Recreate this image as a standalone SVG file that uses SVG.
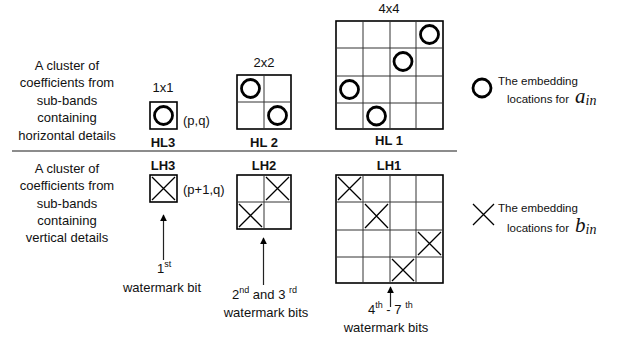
<svg xmlns="http://www.w3.org/2000/svg" width="623" height="340" viewBox="0 0 623 340">
<defs>
<style>
text{font-family:"Liberation Sans",Arial,sans-serif;font-size:13px;fill:#111}
.c{text-anchor:middle}
.b{font-weight:bold}
.lg{font-size:11.5px}
.sup{font-size:9px}
.m{font-family:"Liberation Serif","Times New Roman",serif;font-style:italic;font-size:21px}
.sub{font-size:14px}
.outer{fill:none;stroke:#000;stroke-width:1.6}
.inner{fill:none;stroke:#333;stroke-width:1}
.ring{fill:none;stroke:#000;stroke-width:2.8}
.x{stroke:#000;stroke-width:1.3;fill:none}
.conn{stroke:#222;stroke-width:1.2;fill:none}
</style>
<marker id="ah" viewBox="0 0 10 10" refX="9" refY="5" markerWidth="7" markerHeight="7" markerUnits="userSpaceOnUse" orient="auto"><path d="M0,0 L10,5 L0,10 z" fill="#000"/></marker>
</defs>
<rect width="623" height="340" fill="#fff"/>

<g id="labels-left">
<text class="c" x="67" y="69.5">A cluster of</text>
<text class="c" x="67" y="87">coefficients from</text>
<text class="c" x="67" y="104.5">sub-bands</text>
<text class="c" x="67" y="122">containing</text>
<text class="c" x="67" y="139.5">horizontal details</text>
<text class="c" x="67" y="172.5">A cluster of</text>
<text class="c" x="67" y="190">coefficients from</text>
<text class="c" x="67" y="207.5">sub-bands</text>
<text class="c" x="67" y="225">containing</text>
<text class="c" x="67" y="242">vertical details</text>
</g>

<line x1="12" y1="151" x2="457" y2="151" stroke="#666" stroke-width="1.5"/>

<g id="HL3">
<text class="c" x="163" y="91.5">1x1</text>
<rect class="outer" x="150" y="102" width="27" height="27"/>
<circle class="ring" cx="163.5" cy="115.5" r="9"/>
<text x="183" y="124.5">(p,q)</text>
<text class="c b" x="163" y="146.5">HL3</text>
</g>

<g id="HL2">
<text class="c" x="264" y="66.5">2x2</text>
<rect class="outer" x="237" y="75" width="54" height="54"/>
<path class="inner" d="M264,75V129M237,102H291"/>
<circle class="ring" cx="250.5" cy="88.5" r="9"/>
<circle class="ring" cx="277.5" cy="115.5" r="9"/>
<text class="c b" x="264" y="146.5">HL 2</text>
</g>

<g id="HL1">
<text class="c" x="389" y="12.5">4x4</text>
<rect class="outer" x="336" y="21" width="107" height="108"/>
<path class="inner" d="M363,21V129M390,21V129M416,21V129M336,48H443M336,76H443M336,103H443"/>
<circle class="ring" cx="429.5" cy="34.5" r="9"/>
<circle class="ring" cx="403" cy="61.5" r="9"/>
<circle class="ring" cx="349.5" cy="89.5" r="9"/>
<circle class="ring" cx="376.5" cy="116" r="9"/>
<text class="c b" x="389" y="144.5">HL 1</text>
</g>

<g id="legend-a">
<circle class="ring" cx="482" cy="88" r="9"/>
<text class="lg" x="498" y="84.5">The embedding</text>
<text class="lg" x="507" y="102.5">locations for</text>
<text class="m" x="575" y="103">a<tspan class="sub" dy="2">in</tspan></text>
</g>

<g id="LH3">
<text class="c b" x="163" y="169.5">LH3</text>
<rect class="outer" x="150" y="175" width="27" height="27"/>
<path class="x" d="M152,177L175,200M175,177L152,200"/>
<text x="183" y="193.5">(p+1,q)</text>
</g>

<g id="LH2">
<text class="c b" x="264" y="169.5">LH2</text>
<rect class="outer" x="237" y="175" width="54" height="54"/>
<path class="inner" d="M264,175V229M237,202H291"/>
<path class="x" d="M266,177L289,200M289,177L266,200M239,204L262,227M262,204L239,227"/>
</g>

<g id="LH1">
<text class="c b" x="389" y="169.5">LH1</text>
<rect class="outer" x="336" y="175" width="107" height="108"/>
<path class="inner" d="M363,175V283M390,175V283M416,175V283M336,202H443M336,230H443M336,257H443"/>
<path class="x" d="M338,177L361,200M361,177L338,200M365,204L388,228M388,204L365,228M418,232L441,255M441,232L418,255M392,259L414,281M414,259L392,281"/>
</g>

<g id="legend-b">
<path class="x" stroke-width="1.5" d="M473,204L494,225M494,204L473,225"/>
<text class="lg" x="498" y="211.5">The embedding</text>
<text class="lg" x="507" y="231.5">locations for</text>
<text class="m" x="575" y="232">b<tspan class="sub" dy="2">in</tspan></text>
</g>

<g id="connectors">
<line class="conn" x1="163.5" y1="260" x2="163.5" y2="215" marker-end="url(#ah)"/>
<line class="conn" x1="263.5" y1="285" x2="263.5" y2="238" marker-end="url(#ah)"/>
<line class="conn" x1="390.5" y1="307" x2="390.5" y2="287" marker-end="url(#ah)"/>
</g>

<g id="captions">
<text x="157" y="273">1<tspan class="sup" dy="-6">st</tspan></text>
<text class="c" x="162" y="292">watermark bit</text>
<text x="232" y="299">2<tspan class="sup" dy="-6">nd</tspan><tspan dy="6"> and 3 </tspan><tspan class="sup" dy="-6">rd</tspan></text>
<text class="c" x="266" y="317">watermark bits</text>
<text x="368" y="314">4<tspan class="sup" dy="-6">th</tspan><tspan dy="6"> - 7 </tspan><tspan class="sup" dy="-6">th</tspan></text>
<text class="c" x="386" y="332">watermark bits</text>
</g>
</svg>
